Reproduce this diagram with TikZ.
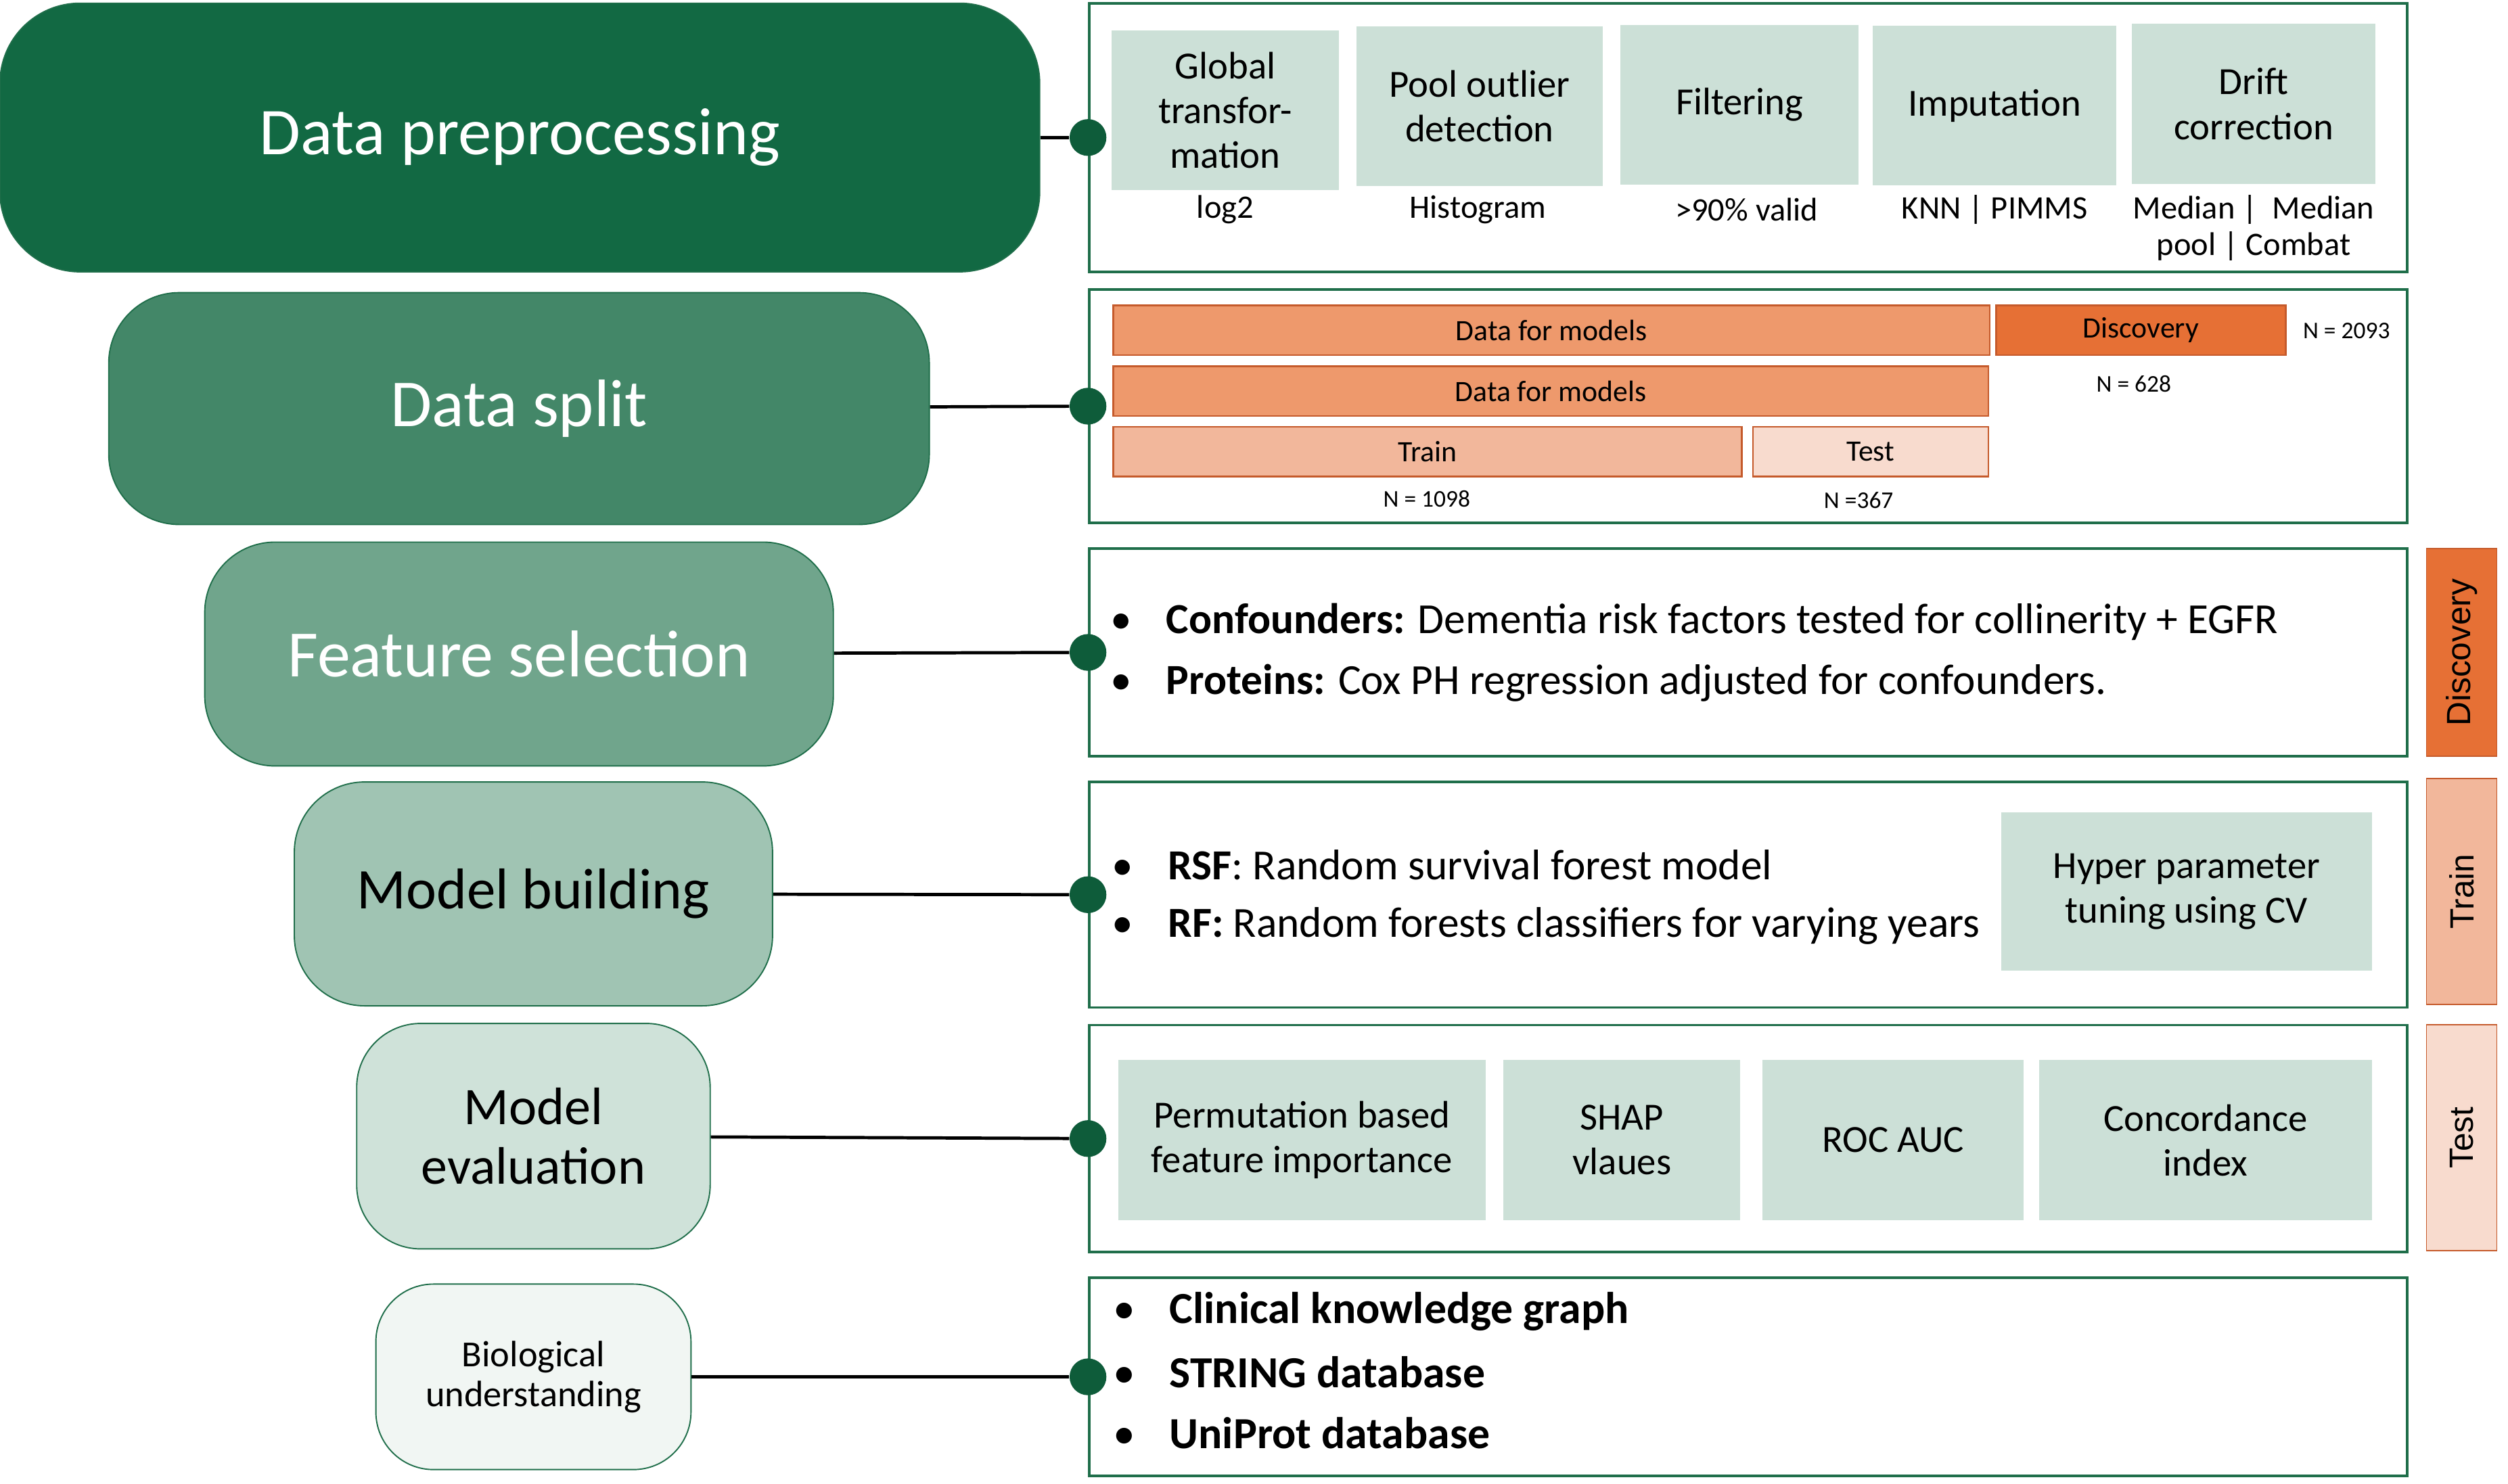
\documentclass[tikz,border=0pt]{standalone}
\usepackage{fontspec}
\setmainfont{Carlito}
\newfontfamily\tagfont{Liberation Sans}
\usetikzlibrary{positioning}
\definecolor{edge}{HTML}{1F6E4A}
\definecolor{dotgreen}{HTML}{0E5C3A}
\definecolor{st1}{HTML}{126943}
\definecolor{st2}{HTML}{438768}
\definecolor{st3}{HTML}{70A58C}
\definecolor{st4}{HTML}{A0C4B3}
\definecolor{st5}{HTML}{CFE2D9}
\definecolor{st6}{HTML}{F1F6F3}
\definecolor{tilefill}{HTML}{CCE0D7}
\definecolor{barline}{HTML}{C55A2B}
\definecolor{or1}{HTML}{E67035}
\definecolor{or2}{HTML}{EE996C}
\definecolor{or3}{HTML}{F2B79B}
\definecolor{or4}{HTML}{F8DBCE}
\newcommand\bul{\makebox[35pt][l]{\mdseries\textbullet}}

\begin{document}
\begin{tikzpicture}[x=1pt,y=-1pt,
  stage/.style={draw=edge,line width=.8pt,rounded corners=44pt,align=center,inner sep=0pt},
  panel/.style={draw=edge,line width=1.6pt,minimum width=824pt,inner sep=0pt},
  dot/.style={circle,fill=dotgreen,minimum size=23pt,inner sep=0pt},
  tile/.style={fill=tilefill,align=center,inner sep=0pt,minimum height=100pt,
    font=\fontsize{24}{28}\selectfont},
  sub/.style={align=center,inner sep=0pt,font=\fontsize{20.5}{23}\selectfont},
  bar/.style={draw=barline,line width=1pt,minimum height=31pt,inner sep=0pt,
    font=\fontsize{18.5}{20}\selectfont},
  count/.style={inner sep=0pt,font=\fontsize{15}{17}\selectfont},
  item/.style={anchor=west,inner sep=0pt,font=\fontsize{26.8}{30}\selectfont},
  tag/.style={draw=barline,line width=.8pt,rotate=90,minimum height=44pt,inner sep=0pt,
    font=\tagfont\fontsize{21}{24}\selectfont},
  link/.style={line width=2pt}]
  \useasboundingbox (0,0) rectangle (1568,928);

  % stages on the left
  \node[stage,fill=st1,text=white,rounded corners=50pt,minimum width=650pt,minimum height=168pt,
    font=\fontsize{41.8}{46}\selectfont] (prep) at (325,86) {Data preprocessing};
  \node[stage,fill=st2,text=white,minimum width=513pt,minimum height=145pt,
    font=\fontsize{42}{46}\selectfont] (split) at (324.5,255.5) {Data split};
  \node[stage,fill=st3,text=white,minimum width=393pt,minimum height=140pt,
    font=\fontsize{41.4}{46}\selectfont] (feat) at (324.5,409) {Feature selection};
  \node[stage,fill=st4,minimum width=299pt,minimum height=140pt,
    font=\fontsize{36}{40}\selectfont] (build) at (333.5,559) {Model building};
  \node[stage,fill=st5,rounded corners=40pt,minimum width=221pt,minimum height=141pt,
    font=\fontsize{33}{37}\selectfont] (eval) at (333.5,710.5) {Model\\evaluation};
  \node[stage,fill=st6,rounded corners=36pt,minimum width=197pt,minimum height=116pt,
    font=\fontsize{23}{25}\selectfont] (bio) at (333.5,861) {Biological\\understanding};

  % panels on the right
  \node[panel,minimum height=168pt] (p1) at (1093,86) {};
  \node[panel,minimum height=146pt] (p2) at (1093,254) {};
  \node[panel,minimum height=130pt] (p3) at (1093,408) {};
  \node[panel,minimum height=141pt] (p4) at (1093,559.5) {};
  \node[panel,minimum height=142pt] (p5) at (1093,712) {};
  \node[panel,minimum height=124pt] (p6) at (1093,861) {};

  \foreach \p in {1,...,6}
    \node[dot] (d\p) at (p\p.west) {};
  \draw[link] (prep) -- (d1);
  \draw[link] (split) -- (d2);
  \draw[link] (feat) -- (d3);
  \draw[link] (build) -- (d4);
  \draw[link] (eval) -- (d5);
  \draw[link] (bio) -- (d6);

  % preprocessing steps
  \node[tile,minimum width=142pt] (glob) at (766,69) {Global\\transfor-\\mation};
  \node[tile,minimum width=154pt] (pool) at (925,66.5) {Pool outlier\\detection};
  \node[tile,minimum width=149pt] (filt) at (1087.5,65.5) {Filtering};
  \node[tile,minimum width=152pt] (imp) at (1247,66) {Imputation};
  \node[tile,minimum width=152pt] (drift) at (1409,65) {Drift\\correction};
  \node[sub] (log) at (766,131) {log2};
  \node[sub] (hist) at (924,131) {Histogram};
  \node[sub] (valid) at (1092,131) {>90\% valid};
  \node[sub] (knn) at (1247,131) {KNN | PIMMS};
  \node[sub] (med) at (1409,142.5) {Median |\ \ Median\\pool | Combat};

  % split bars
  \node[bar,fill=or2,minimum width=548pt] (all) at (970,206.5) {Data for models};
  \node[bar,fill=or1,minimum width=181pt] (disc) at (1338.5,206.5) {Discovery};
  \node[count] (n1) at (1467,207) {N = 2093};
  \node[bar,fill=or2,minimum width=547pt] (mod) at (969.5,244.5) {Data for models};
  \node[count] (n2) at (1334,240) {N = 628};
  \node[bar,fill=or3,minimum width=393pt] (train) at (892.5,282.5) {Train};
  \node[bar,fill=or4,minimum width=147pt] (test) at (1169.5,282.5) {Test};
  \node[count] (n3) at (892,312) {N = 1098};
  \node[count] (n4) at (1162,313) {N =367};

  % feature selection
  \node[item] (conf) at (694,389) {\bul\textbf{Confounders:} Dementia risk factors tested for collinerity + EGFR};
  \node[item] (prot) at (694,427) {\bul\textbf{Proteins:} Cox PH regression adjusted for confounders.};

  % model building
  \node[item] (rsf) at (695,541) {\bul\textbf{RSF}: Random survival forest model};
  \node[item] (rf) at (695,579) {\bul\textbf{RF:} Random forests classifiers for varying years};
  \node[tile,minimum width=232pt,minimum height=99pt] (hyp) at (1367,557.5) {Hyper parameter\\tuning using CV};

  % evaluation
  \node[tile,minimum width=230pt] (perm) at (814,713) {Permutation based\\feature importance};
  \node[tile,minimum width=148pt] (shap) at (1014,713) {SHAP\\vlaues};
  \node[tile,minimum width=163pt] (roc) at (1183.5,713) {ROC AUC};
  \node[tile,minimum width=208pt] (conc) at (1379,713) {Concordance\\index};

  % biology
  \node[item,font=\fontsize{27.8}{30}\bfseries] (ckg) at (696,820) {\bul Clinical knowledge graph};
  \node[item,font=\fontsize{27.8}{30}\bfseries] (str) at (696,858) {\bul STRING database};
  \node[item,font=\fontsize{27.8}{30}\bfseries] (uni) at (696,896) {\bul UniProt database};

  % cohort tags
  \node[tag,fill=or1,minimum width=130pt] (tdisc) at (1539,408) {Discovery};
  \node[tag,fill=or3,minimum width=141pt] (ttrain) at (1539,557.5) {Train};
  \node[tag,fill=or4,minimum width=141pt] (ttest) at (1539,711.5) {Test};
\end{tikzpicture}
\end{document}
